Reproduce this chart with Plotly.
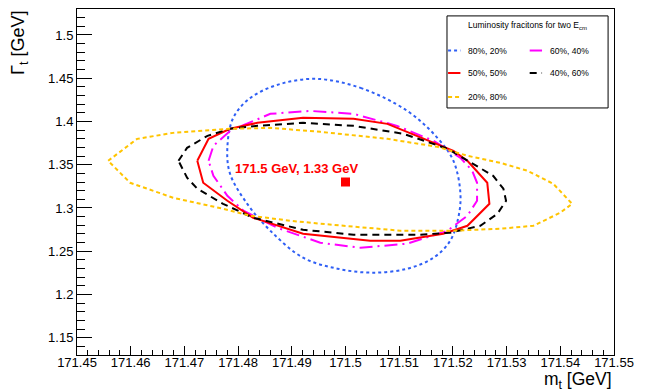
import plotly.graph_objects as go

# ---- data ----
blue_x = [171.4947, 171.5028, 171.5115, 171.5171, 171.5201, 171.5214, 171.5210, 171.5195, 171.5164, 171.5115,
          171.5050, 171.4985, 171.4921, 171.4860, 171.4817, 171.4785, 171.4780, 171.4791, 171.4823, 171.4879, 171.4947]
blue_y = [1.4492, 1.4388, 1.4122, 1.3811, 1.3545, 1.3164, 1.2887, 1.2621, 1.2425, 1.2298,
          1.2252, 1.2298, 1.2425, 1.2737, 1.3048, 1.3395, 1.3695, 1.4042, 1.4273, 1.4434, 1.4492]

magenta_x = [171.4745, 171.4754, 171.4785, 171.4860, 171.4934, 171.5015, 171.5096, 171.5164, 171.5214, 171.5236, 171.5245,
             171.5245, 171.5227, 171.5190, 171.5115, 171.5028, 171.4953, 171.4873, 171.4810, 171.4780, 171.4754, 171.4745]
magenta_y = [1.3545, 1.3718, 1.3891, 1.4088, 1.4122, 1.4088, 1.3949, 1.3776, 1.3580, 1.3430, 1.3291,
             1.3083, 1.2910, 1.2737, 1.2587, 1.2540, 1.2598, 1.2771, 1.2968, 1.3141, 1.3372, 1.3545]

red_x = [171.4724, 171.4745, 171.4785, 171.4836, 171.4921, 171.5015, 171.5078, 171.5152, 171.5201, 171.5227, 171.5264,
         171.5268, 171.5227, 171.5182, 171.5102, 171.5046, 171.4921, 171.4828, 171.4780, 171.4735, 171.4724]
red_y = [1.3545, 1.3799, 1.3915, 1.3984, 1.4042, 1.4030, 1.3972, 1.3788, 1.3661, 1.3545, 1.3291,
         1.3048, 1.2794, 1.2702, 1.2621, 1.2621, 1.2702, 1.2887, 1.3083, 1.3291, 1.3545]

black_x = [171.4689, 171.4705, 171.4743, 171.4785, 171.4836, 171.4921, 171.5015, 171.5108, 171.5190, 171.5227, 171.5275, 171.5294,
           171.5299, 171.5283, 171.5251, 171.5195, 171.5139, 171.5015, 171.4921, 171.4828, 171.4772, 171.4724, 171.4705, 171.4689]
black_y = [1.3545, 1.3695, 1.3834, 1.3915, 1.3949, 1.3984, 1.3949, 1.3857, 1.3684, 1.3545, 1.3372, 1.3222,
           1.3083, 1.2933, 1.2794, 1.2714, 1.2691, 1.2691, 1.2748, 1.2887, 1.3048, 1.3222, 1.3349, 1.3545]

yellow_x = [171.4558, 171.4612, 171.4679, 171.4785, 171.4860, 171.4953, 171.5078, 171.5171, 171.5227, 171.5288, 171.5339, 171.5387,
            171.5422, 171.5400, 171.5350, 171.5288, 171.5201, 171.5102, 171.4953, 171.4897, 171.4823, 171.4772, 171.4679, 171.4599, 171.4558]
yellow_y = [1.3545, 1.3799, 1.3868, 1.3915, 1.3926, 1.3880, 1.3799, 1.3707, 1.3603, 1.3522, 1.3430, 1.3279,
            1.3048, 1.2945, 1.2794, 1.2760, 1.2737, 1.2737, 1.2818, 1.2852, 1.2910, 1.2991, 1.3118, 1.3291, 1.3545]

best_x = [171.5]
best_y = [1.33]
best_label = "171.5 GeV, 1.33 GeV"

series_names = ["80%, 20%", "60%, 40%", "50%, 50%", "40%, 60%", "20%, 80%"]
legend_title = "Luminosity fracitons for two E<sub>cm</sub>"

x_ticks = [171.45, 171.46, 171.47, 171.48, 171.49, 171.5, 171.51, 171.52, 171.53, 171.54, 171.55]
x_ticktext = ["171.45", "171.46", "171.47", "171.48", "171.49", "171.5", "171.51", "171.52", "171.53", "171.54", "171.55"]
y_ticks = [1.15, 1.2, 1.25, 1.3, 1.35, 1.4, 1.45, 1.5]
y_ticktext = ["1.15", "1.2", "1.25", "1.3", "1.35", "1.4", "1.45", "1.5"]

FONT = "Liberation Sans, Arial, sans-serif"

fig = go.Figure()
styles = [
    (blue_x, blue_y, "#2f5ff5", "3px,3px", "spline"),
    (magenta_x, magenta_y, "#ff00ff", "13px,5px,2px,5px", "linear"),
    (red_x, red_y, "#ff0000", "solid", "linear"),
    (black_x, black_y, "#000000", "7px,5px", "linear"),
    (yellow_x, yellow_y, "#ffc400", "4px,3px", "linear"),
]
for (xs, ys, col, dash, shape), name in zip(styles, series_names):
    fig.add_trace(go.Scatter(x=xs, y=ys, mode="lines", name=name, showlegend=False,
                             line=dict(color=col, width=2, dash=dash, shape=shape)))

fig.add_trace(go.Scatter(x=best_x, y=best_y, mode="markers", showlegend=False,
                         marker=dict(symbol="square", size=9, color="#ff0000")))

fig.add_annotation(x=171.4908, y=1.3453, xref="x", yref="y", text="<b>%s</b>" % best_label,
                   showarrow=False, font=dict(family=FONT, size=13, color="#ff0000"))

# axis titles (ROOT style: right / top aligned)
fig.add_annotation(x=1.0, y=-0.074, xref="paper", yref="paper", xanchor="right", yanchor="middle",
                   text="m<sub>t</sub> [GeV]", showarrow=False, font=dict(family=FONT, size=17.5, color="black"))
fig.add_annotation(x=-0.083, y=1.0, xref="paper", yref="paper", xanchor="right", yanchor="top",
                   text="Γ<sub>t</sub> [GeV]", textangle=-90, showarrow=False,
                   font=dict(family=FONT, size=18, color="black"))

# ---- legend box (two columns, like the reference) ----
fig.add_shape(type="rect", xref="paper", yref="paper", x0=0.689, x1=0.989, y0=0.714, y1=0.980,
              line=dict(color="black", width=1), fillcolor="white", layer="above")
fig.add_annotation(x=0.839, y=0.951, xref="paper", yref="paper", xanchor="center", yanchor="middle",
                   text=legend_title, showarrow=False, font=dict(family=FONT, size=8.5, color="black"))
col_x0 = [0.691, 0.843]
col_len = 0.023
row_y = [0.880, 0.815, 0.746]
for i, ((xs, ys, col, dash, shape), name) in enumerate(zip(styles, series_names)):
    c, r = i % 2, i // 2
    fig.add_shape(type="line", xref="paper", yref="paper", x0=col_x0[c], x1=col_x0[c] + col_len,
                  y0=row_y[r], y1=row_y[r], line=dict(color=col, width=2, dash=dash), layer="above")
    fig.add_annotation(x=col_x0[c] + col_len + 0.011, y=row_y[r], xref="paper", yref="paper",
                       xanchor="left", yanchor="middle", text=name, showarrow=False,
                       font=dict(family=FONT, size=8.5, color="black"))

fig.update_layout(
    width=648, height=392,
    margin=dict(l=77, r=34, t=9, b=37),
    paper_bgcolor="white", plot_bgcolor="white",
    font=dict(family=FONT, size=13, color="black"),
    showlegend=False,
)
fig.update_xaxes(range=[171.45, 171.55], tickvals=x_ticks, ticktext=x_ticktext,
                 showgrid=False, zeroline=False, showline=True, mirror=True, linecolor="black", linewidth=1,
                 ticks="inside", ticklen=9, tickcolor="black", ticklabelstandoff=-5,
                 minor=dict(ticks="inside", ticklen=5, dtick=0.002, tick0=171.45, tickcolor="black", showgrid=False))
fig.update_yaxes(range=[1.13, 1.53], tickvals=y_ticks, ticktext=y_ticktext,
                 showgrid=False, zeroline=False, showline=True, mirror=True, linecolor="black", linewidth=1,
                 ticks="inside", ticklen=15, tickcolor="black",
                 minor=dict(ticks="inside", ticklen=8, dtick=0.01, tick0=1.13, tickcolor="black", showgrid=False))

fig.write_html("out.html", config={"displayModeBar": False},
               post_script="document.body.style.margin='0';")
